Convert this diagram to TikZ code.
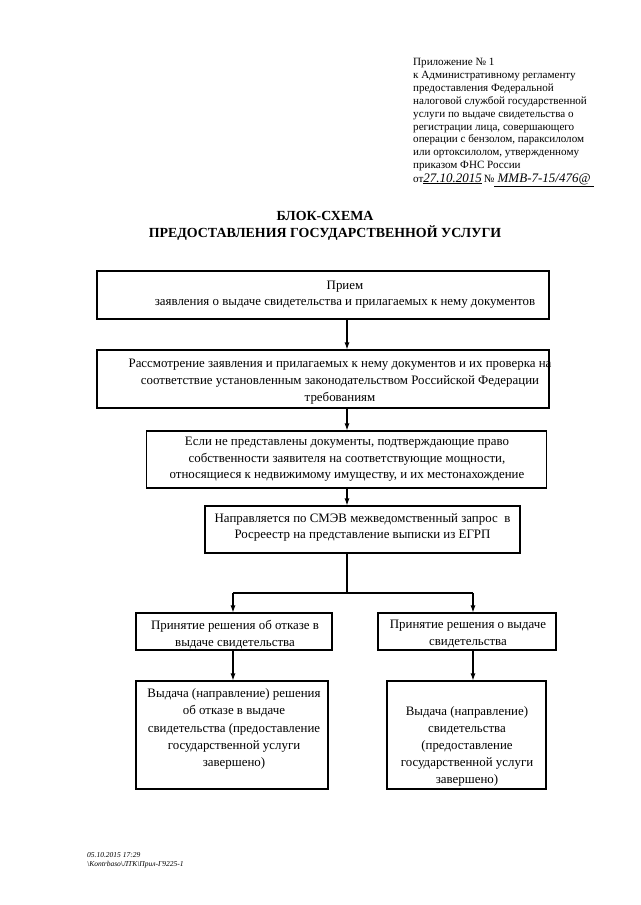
\documentclass[tikz,border=0pt]{standalone}
\usepackage{fontspec}
\setmainfont{Liberation Serif}
\usetikzlibrary{arrows.meta}
\begin{document}
\begin{tikzpicture}[x=1pt,y=-1pt,
  box/.style={draw,line width=1.1pt,inner sep=0pt},
  txt/.style={inner sep=0pt,align=center,anchor=north,font=\fontsize{12.9}{16.8}\selectfont},
  hdr/.style={inner sep=0pt,align=left,anchor=north west,font=\fontsize{11.1}{12.9}\selectfont},
  ttl/.style={inner sep=0pt,align=center,anchor=north,font=\fontsize{13.9}{17.5}\selectfont\bfseries},
  foot/.style={inner sep=0pt,align=left,anchor=north west,font=\fontsize{7.5}{9}\selectfont\itshape},
  arr/.style={line width=1.1pt,-{Latex[length=7pt,width=5pt]}},
  ln/.style={line width=1.1pt}]
\useasboundingbox (0,0) rectangle (640,905);
\fill[white] (0,0) rectangle (640,905);

% header
\node[hdr] (hd) at (413,58) {Приложение № 1\\к Административному регламенту\\предоставления Федеральной\\налоговой службой государственной\\услуги по выдаче свидетельства о\\регистрации лица, совершающего\\операции с бензолом, параксилолом\\или ортоксилолом, утвержденному\\приказом ФНС России};
\node[hdr,anchor=base west] (sig) at (413,182) {от\underline{\itshape\fontsize{13}{13}\selectfont 27.10.2015}\,№\underline{\itshape\fontsize{13}{13}\selectfont ~ММВ-7-15/476@~}};

% title
\node[ttl] (title) at (325,211) {БЛОК-СХЕМА\\ПРЕДОСТАВЛЕНИЯ ГОСУДАРСТВЕННОЙ УСЛУГИ};

% boxes
\node[box,minimum width=452pt,minimum height=48pt] (b1) at (323,295) {};
\node[box,minimum width=452pt,minimum height=58pt] (b2) at (323,379) {};
\node[box,minimum width=400pt,minimum height=57pt] (b3) at (346.5,459.5) {};
\node[box,minimum width=315pt,minimum height=47pt] (b4) at (362.5,529.5) {};
\node[box,minimum width=196pt,minimum height=37pt] (b5l) at (234,631.5) {};
\node[box,minimum width=178pt,minimum height=37pt] (b5r) at (467,631.5) {};
\node[box,minimum width=192pt,minimum height=108pt] (b6l) at (232,735) {};
\node[box,minimum width=159pt,minimum height=108pt] (b6r) at (466.5,735) {};

% texts
\node[txt,font=\fontsize{12.9}{15.5}\selectfont] (t1) at (345,281) {Прием\\заявления о выдаче свидетельства и прилагаемых к нему документов};
\node[txt] (t2) at (340,359) {Рассмотрение заявления и прилагаемых к нему документов и их проверка на\\соответствие установленным законодательством Российской Федерации\\требованиям};
\node[txt,font=\fontsize{12.9}{16.6}\selectfont] (t3) at (347,437) {Если не представлены документы, подтверждающие право\\собственности заявителя на соответствующие мощности,\\относящиеся к недвижимому имуществу, и их местонахождение};
\node[txt] (t4) at (362.5,513) {Направляется по СМЭВ межведомственный запрос~ в\\Росреестр на представление выписки из ЕГРП};
\node[txt] (t5l) at (235,620) {Принятие решения об отказе в\\выдаче свидетельства};
\node[txt] (t5r) at (468,620) {Принятие решения о выдаче\\свидетельства};
\node[txt,font=\fontsize{12.9}{17.2}\selectfont] (t6l) at (234,688.5) {Выдача (направление) решения\\об отказе в выдаче\\свидетельства (предоставление\\государственной услуги\\завершено)};
\node[txt,font=\fontsize{12.9}{17.2}\selectfont] (t6r) at (467,706) {Выдача (направление)\\свидетельства\\(предоставление\\государственной услуги\\завершено)};

% connectors
\coordinate (sp) at (347,593);
\coordinate (lt) at (233,593);
\coordinate (rt) at (473,593);
\draw[arr] (b1.south -| sp) -- (b2.north -| sp);
\draw[arr] (b2.south -| sp) -- (b3.north -| sp);
\draw[arr] (b3.south -| sp) -- (b4.north -| sp);
\draw[ln] (b4.south -| sp) -- (sp);
\draw[ln] (lt) -- (rt);
\draw[arr] (lt) -- (b5l.north -| lt);
\draw[arr] (rt) -- (b5r.north -| rt);
\draw[arr] (b5l.south -| lt) -- (b6l.north -| lt);
\draw[arr] (b5r.south -| rt) -- (b6r.north -| rt);

% footer
\node[foot] (ft) at (87,852) {05.10.2015 17:29\\\textbackslash Kontrbaso\textbackslash ЛТК\textbackslash Прил-Г9225-1};
\end{tikzpicture}
\end{document}
